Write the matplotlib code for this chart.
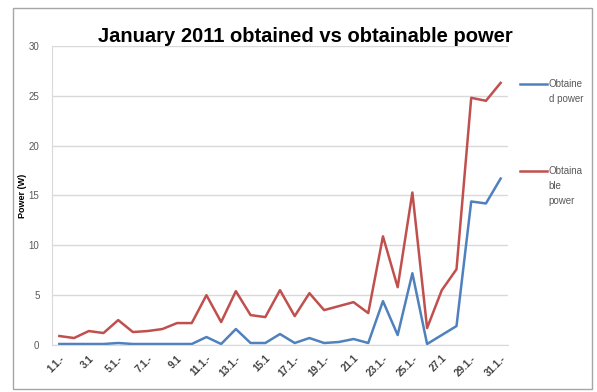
import matplotlib
matplotlib.use('Agg')
import matplotlib.pyplot as plt
from matplotlib.lines import Line2D
from matplotlib.patches import Rectangle

plt.rcParams['font.family'] = ['Liberation Sans', 'DejaVu Sans']

# January 2011, one value per day
days = [f'{d}.1.2011' for d in range(1, 32)]
tick_labels = ['1.1.-', '3.1', '5.1.-', '7.1.-', '9.1', '11.1.-', '13.1.-', '15.1',
               '17.1.-', '19.1.-', '21.1', '23.1.-', '25.1.-', '27.1', '29.1.-', '31.1.-']

obtained = [0.1, 0.1, 0.1, 0.1, 0.2, 0.1, 0.1, 0.1, 0.1, 0.1, 0.8,
            0.1, 1.6, 0.2, 0.2, 1.1, 0.2, 0.7, 0.2, 0.3, 0.6,
            0.2, 4.4, 1.0, 7.2, 0.1, 1.0, 1.9, 14.4, 14.2, 16.7]
obtainable = [0.9, 0.7, 1.4, 1.2, 2.5, 1.3, 1.4, 1.6, 2.2, 2.2, 5.0,
              2.3, 5.4, 3.0, 2.8, 5.5, 2.9, 5.2, 3.5, 3.9, 4.3,
              3.2, 10.9, 5.8, 15.3, 1.7, 5.5, 7.6, 24.8, 24.5, 26.3]

series_names = ['Obtaine\nd power', 'Obtaina\nble\npower']
colors = ['#4F81BD', '#C0504D']

fig = plt.figure(figsize=(5.97, 3.92), dpi=100)
ax = fig.add_axes([0.0871, 0.1199, 0.7638, 0.7628])

x = list(range(len(days)))
ax.plot(x, obtained, color=colors[0], linewidth=1.8)
ax.plot(x, obtainable, color=colors[1], linewidth=1.8)

ax.set_xlim(-0.5, len(days) - 0.5)
ax.set_ylim(0, 30)
ax.set_yticks(range(0, 31, 5))
ax.yaxis.grid(True, color='#D9D9D9', linewidth=1)
ax.set_axisbelow(True)
ax.set_xticks(x[::2])
ax.set_xticklabels(tick_labels, rotation=45, ha='right', rotation_mode='anchor',
                   fontsize=7, fontweight='bold', color='#404040')
ax.tick_params(axis='y', length=0, pad=9, labelsize=7, labelcolor='#595959')
ax.tick_params(axis='x', length=0, pad=6)
for s in ['top', 'right']:
    ax.spines[s].set_visible(False)
ax.spines['left'].set_color('#D9D9D9')
ax.spines['bottom'].set_color('#D9D9D9')
ax.set_ylabel('Power (W)', fontsize=6.5, fontweight='bold', labelpad=1)

fig.text(305 / 597, 1 - 36 / 392, 'January 2011 obtained vs obtainable power',
         ha='center', va='center', fontsize=14.5, fontweight='bold')

# legend drawn at the right, text wrapped like the original
legend_y = [1 - 84 / 392, 1 - 171 / 392]
for name, c, ly in zip(series_names, colors, legend_y):
    fig.add_artist(Line2D([0.871, 0.916], [ly, ly], color=c, linewidth=1.8,
                          transform=fig.transFigure))
    fig.text(0.919, ly + 0.013, name, ha='left', va='top', fontsize=7,
             color='#595959', linespacing=1.65)

fig.add_artist(Rectangle((13 / 597, 1 - 389 / 392), 579 / 597, 381 / 392,
                         transform=fig.transFigure, fill=False,
                         edgecolor='#A6A6A6', linewidth=1))

fig.savefig('out.png', dpi=100, facecolor='white')
